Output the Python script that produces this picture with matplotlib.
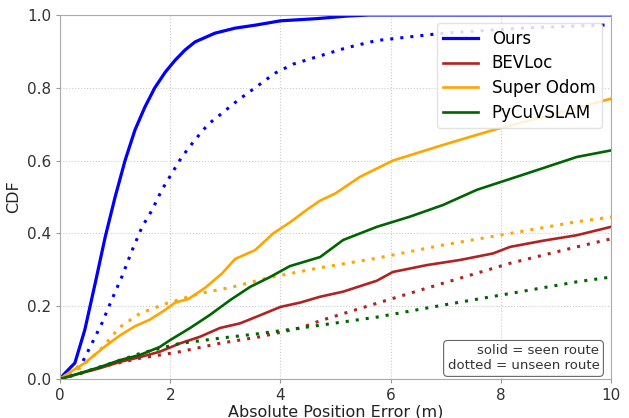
import matplotlib
matplotlib.use("Agg")
import matplotlib.pyplot as plt
import numpy as np

# ---- data ----
ours_seen_x = [0, 0.09, 0.27, 0.45, 0.64, 0.82, 1.0, 1.18, 1.36, 1.54, 1.72, 1.91, 2.09, 2.27, 2.45, 2.81, 3.18, 3.54, 4.0, 4.66, 5.2, 5.6, 10]
ours_seen_y = [0, 0.016, 0.044, 0.135, 0.264, 0.39, 0.50, 0.60, 0.684, 0.747, 0.80, 0.843, 0.876, 0.904, 0.926, 0.95, 0.964, 0.972, 0.984, 0.99, 0.997, 1.0, 1.0]

ours_unseen_x = [0, 0.2, 0.40, 0.58, 0.76, 0.94, 1.12, 1.31, 1.49, 1.67, 1.85, 2.03, 2.21, 2.45, 2.69, 2.94, 3.23, 3.54, 3.9, 4.23, 4.66, 5.2, 5.75, 6.95, 8.5, 10]
ours_unseen_y = [0, 0.012, 0.044, 0.098, 0.153, 0.218, 0.28, 0.354, 0.418, 0.464, 0.52, 0.565, 0.61, 0.657, 0.70, 0.73, 0.766, 0.80, 0.84, 0.865, 0.885, 0.91, 0.93, 0.95, 0.965, 0.973]

bev_seen_x = [0, 0.36, 0.73, 1.09, 1.45, 1.81, 2.18, 2.54, 2.9, 3.27, 3.63, 4.0, 4.36, 4.72, 5.14, 5.75, 6.04, 6.66, 7.26, 7.86, 8.17, 8.77, 9.38, 10]
bev_seen_y = [0, 0.015, 0.03, 0.047, 0.06, 0.075, 0.098, 0.116, 0.14, 0.153, 0.175, 0.198, 0.21, 0.226, 0.24, 0.27, 0.294, 0.313, 0.327, 0.345, 0.363, 0.38, 0.395, 0.418]

bev_unseen_x = [0, 0.36, 0.73, 1.45, 2.18, 2.9, 3.63, 4.36, 4.72, 5.75, 6.95, 8.17, 9.38, 10]
bev_unseen_y = [0, 0.015, 0.033, 0.057, 0.075, 0.098, 0.116, 0.14, 0.16, 0.208, 0.263, 0.318, 0.363, 0.385]

so_seen_x = [0, 0.09, 0.45, 0.82, 1.09, 1.36, 1.63, 1.91, 2.09, 2.33, 2.63, 2.94, 3.18, 3.54, 3.87, 4.17, 4.48, 4.72, 5.0, 5.44, 6.04, 6.95, 7.86, 8.77, 10]
so_seen_y = [0, 0.01, 0.044, 0.09, 0.12, 0.145, 0.163, 0.19, 0.21, 0.22, 0.25, 0.29, 0.33, 0.354, 0.40, 0.43, 0.465, 0.49, 0.51, 0.555, 0.60, 0.643, 0.684, 0.72, 0.77]

so_unseen_x = [0, 0.36, 0.73, 1.09, 1.45, 1.94, 2.54, 3.14, 3.75, 4.66, 5.75, 6.95, 8.17, 9.38, 10]
so_unseen_y = [0, 0.03, 0.08, 0.143, 0.18, 0.208, 0.235, 0.253, 0.277, 0.304, 0.332, 0.368, 0.40, 0.432, 0.445]

pcv_seen_x = [0, 0.36, 0.73, 1.09, 1.45, 1.81, 2.0, 2.36, 2.72, 3.09, 3.45, 3.81, 4.17, 4.72, 5.14, 5.75, 6.35, 6.95, 7.57, 8.48, 9.38, 10]
pcv_seen_y = [0, 0.016, 0.033, 0.052, 0.066, 0.088, 0.107, 0.14, 0.176, 0.217, 0.253, 0.28, 0.31, 0.335, 0.382, 0.418, 0.446, 0.478, 0.52, 0.565, 0.61, 0.628]

pcv_unseen_x = [0, 0.36, 0.73, 1.45, 2.18, 2.9, 3.63, 4.36, 5.75, 6.95, 8.17, 9.38, 10]
pcv_unseen_y = [0, 0.015, 0.033, 0.07, 0.098, 0.112, 0.125, 0.14, 0.17, 0.203, 0.235, 0.267, 0.28]

methods = ["Ours", "BEVLoc", "Super Odom", "PyCuVSLAM"]
colors = ["#0000ff", "#b22222", "#ffa500", "#006400"]
x_ticks = [0, 2, 4, 6, 8, 10]
y_ticks = [0.0, 0.2, 0.4, 0.6, 0.8, 1.0]

fig = plt.figure(figsize=(6.29, 4.18), dpi=100)
ax = fig.add_axes([0.0954, 0.0933, 0.8760, 0.8708])

seen = [(ours_seen_x, ours_seen_y), (bev_seen_x, bev_seen_y), (so_seen_x, so_seen_y), (pcv_seen_x, pcv_seen_y)]
unseen = [(ours_unseen_x, ours_unseen_y), (bev_unseen_x, bev_unseen_y), (so_unseen_x, so_unseen_y), (pcv_unseen_x, pcv_unseen_y)]
lws = [2.3, 1.9, 1.9, 1.9]

for name, c, lw, (sx, sy), (ux, uy) in zip(methods, colors, lws, seen, unseen):
    ax.plot(sx, sy, color=c, lw=lw, ls="-", label=name, solid_joinstyle="round")
    ax.plot(ux, uy, color=c, lw=2.2, ls=(0, (1, 2.3)))

ax.set_xlim(0, 10)
ax.set_ylim(0, 1.0)
ax.set_xticks(x_ticks)
ax.set_yticks(y_ticks)
ax.tick_params(labelsize=11, colors="#333333", length=3)
ax.tick_params(axis="both", color="#999999")
ax.set_xlabel("Absolute Position Error (m)", fontsize=11.5, color="#222222", labelpad=1)
ax.set_ylabel("CDF", fontsize=11.5, color="#222222")
ax.grid(True, ls=":", color="#cccccc", lw=0.8)
for s in ax.spines.values():
    s.set_color("#aaaaaa")

leg = ax.legend(loc="upper right", fontsize=12, frameon=True, framealpha=0.85,
                handlelength=2.1, borderpad=0.4, labelspacing=0.4, borderaxespad=0.0,
                bbox_to_anchor=(0.984, 0.978))
leg.get_frame().set_edgecolor("#dddddd")

ax.text(0.979, 0.018, "solid = seen route\ndotted = unseen route", transform=ax.transAxes,
        ha="right", va="bottom", fontsize=9.5, color="#333333", linespacing=1.2,
        bbox=dict(boxstyle="round,pad=0.3", fc="white", ec="#666666", lw=0.8))

fig.savefig("out.png", dpi=100)
